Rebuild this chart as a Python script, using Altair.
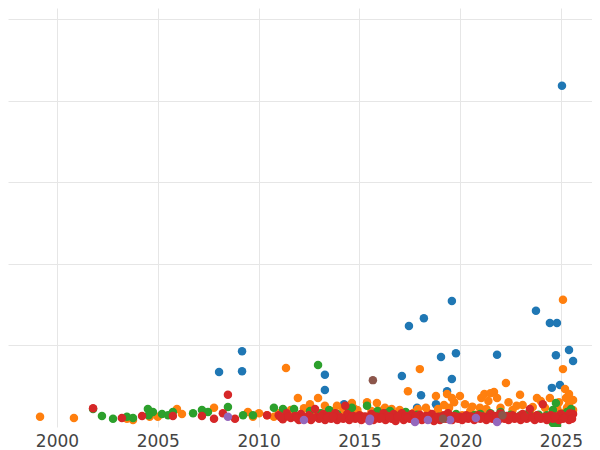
import altair as alt
import pandas as pd

# Series values (year, value)
blue = [(2008.04, 13.5), (2009.18, 18.6), (2009.18, 13.7), (2013.29, 12.8), (2013.29, 9.1),
        (2014.24, 5.6), (2017.11, 12.5), (2017.46, 24.8), (2017.86, 4.7), (2018.06, 7.8),
        (2018.2, 26.7), (2018.8, 5.6), (2019.05, 17.2), (2019.35, 8.8), (2019.59, 11.8),
        (2019.59, 30.9), (2019.79, 18.1), (2021.83, 17.7), (2023.76, 28.5), (2024.45, 25.5),
        (2024.8, 25.5), (2024.55, 9.6), (2024.95, 10.3), (2024.75, 17.6), (2025.4, 18.9),
        (2025.6, 16.2), (2025.05, 83.7)]

orange = [(1999.16, 2.5), (2000.84, 2.2), (2003.47, 2.0), (2003.77, 1.7), (2004.6, 2.5),
          (2005.0, 2.5), (2005.95, 4.4), (2006.2, 3.2), (2007.79, 4.7), (2009.47, 3.7),
          (2009.72, 2.5), (2010.02, 3.4), (2010.42, 2.9), (2010.76, 2.5), (2011.21, 2.0),
          (2011.36, 14.5), (2011.95, 7.1), (2011.0, 3.4), (2011.6, 4.2), (2012.25, 4.6),
          (2012.55, 5.6), (2012.95, 7.1), (2012.25, 2.0), (2013.29, 5.2), (2013.0, 3.4),
          (2013.54, 3.2), (2013.89, 5.2), (2014.2, 4.4), (2014.63, 5.9), (2014.7, 4.7),
          (2015.0, 3.0), (2015.38, 6.1), (2015.6, 3.9), (2015.87, 5.9), (2016.1, 3.0),
          (2016.27, 4.7), (2016.6, 4.4), (2016.87, 3.2), (2017.0, 4.2), (2017.41, 8.8),
          (2017.3, 2.5), (2017.7, 3.5), (2018.0, 14.2), (2018.3, 4.7), (2018.4, 3.5),
          (2018.8, 7.6), (2018.9, 4.4), (2019.0, 3.0), (2019.35, 8.1), (2019.45, 4.7),
          (2019.59, 7.1), (2019.99, 7.6), (2019.7, 6.1), (2020.24, 5.6), (2020.5, 3.9),
          (2020.78, 3.0), (2020.98, 4.7), (2021.05, 7.1), (2021.2, 8.1), (2021.4, 6.4),
          (2021.5, 8.3), (2021.68, 8.6), (2021.83, 7.1), (2022.0, 4.7), (2022.27, 10.8),
          (2022.4, 6.1), (2022.6, 4.2), (2022.97, 7.9), (2023.1, 5.4), (2023.46, 3.7),
          (2023.81, 7.1), (2024.0, 6.4), (2024.21, 4.7), (2024.45, 7.1), (2024.6, 3.5),
          (2025.1, 31.2), (2025.1, 14.2), (2025.2, 9.3), (2025.25, 7.1), (2025.4, 8.1),
          (2025.6, 6.6), (2025.4, 5.6), (2025.3, 4.7), (2025.6, 4.2), (2025.0, 3.5),
          (2024.9, 6.1), (2016.5, 2.5), (2018.6, 2.2), (2020.1, 2.9), (2021.9, 2.5),
          (2023.3, 2.9), (2024.3, 2.5), (2014.1, 2.5), (2012.8, 2.9), (2013.7, 3.9),
          (2014.9, 4.2), (2016.0, 4.0), (2017.9, 4.4), (2019.2, 5.4), (2020.6, 5.0),
          (2021.3, 4.4), (2022.8, 5.2), (2023.6, 4.9), (2024.8, 4.7)]

green = [(2001.79, 4.4), (2002.23, 2.7), (2002.78, 2.0), (2003.47, 2.5), (2003.77, 2.2),
         (2004.51, 4.4), (2004.76, 3.7), (2004.55, 2.9), (2005.21, 3.2), (2005.51, 2.9),
         (2005.75, 3.7), (2006.75, 3.4), (2007.19, 4.2), (2007.49, 3.7), (2008.48, 4.9),
         (2009.23, 2.9), (2009.72, 2.9), (2010.76, 4.7), (2011.21, 4.4), (2011.76, 4.4),
         (2012.0, 2.7), (2012.55, 3.9), (2012.95, 15.2), (2013.1, 3.4), (2013.5, 4.2),
         (2013.9, 3.2), (2014.5, 4.0), (2014.63, 4.7), (2015.38, 5.2), (2015.6, 2.5),
         (2015.9, 3.9), (2016.27, 3.4), (2016.52, 3.9), (2016.87, 2.7), (2017.3, 3.7),
         (2017.86, 3.0), (2018.4, 2.2), (2019.0, 2.5), (2019.8, 3.2), (2020.3, 2.5),
         (2020.7, 2.9), (2021.0, 3.2), (2021.5, 3.4), (2022.0, 3.7), (2022.5, 3.0),
         (2023.0, 2.9), (2023.4, 3.4), (2023.9, 3.0), (2024.3, 2.9), (2024.6, 4.2),
         (2024.75, 5.9), (2024.8, 0.4), (2025.0, 3.2), (2025.3, 3.7), (2025.5, 4.4),
         (2024.6, 1.0)]

red = [(2001.79, 4.6), (2003.22, 2.2), (2004.22, 2.7), (2005.75, 2.7), (2007.19, 2.7),
       (2007.79, 2.0), (2008.23, 3.4), (2008.48, 7.9), (2008.83, 2.0), (2010.42, 2.9),
       (2011.0, 2.9), (2011.2, 1.9), (2011.4, 3.4), (2011.6, 2.2), (2011.8, 2.7),
       (2012.0, 1.7), (2012.1, 3.2), (2012.3, 2.2), (2012.5, 2.9), (2012.6, 1.7),
       (2012.8, 4.4), (2012.9, 2.5), (2013.0, 2.0), (2013.2, 3.2), (2013.3, 1.7),
       (2013.5, 2.7), (2013.6, 2.0), (2013.8, 3.4), (2013.9, 1.7), (2014.0, 2.5),
       (2014.2, 2.0), (2014.3, 5.2), (2014.4, 3.2), (2014.5, 1.7), (2014.7, 2.7),
       (2014.8, 2.0), (2015.0, 2.9), (2015.1, 1.7), (2015.2, 2.5), (2015.4, 2.0),
       (2015.6, 3.2), (2015.7, 1.7), (2015.9, 2.5), (2016.0, 2.0), (2016.2, 3.4),
       (2016.3, 1.7), (2016.4, 2.7), (2016.6, 2.0), (2016.7, 3.2), (2016.8, 1.5),
       (2017.0, 2.5), (2017.1, 3.4), (2017.2, 1.7), (2017.3, 2.7), (2017.5, 2.0),
       (2017.6, 3.2), (2017.7, 1.7), (2017.9, 2.5), (2018.0, 3.0), (2018.1, 1.7),
       (2018.3, 2.7), (2018.5, 2.0), (2018.6, 3.2), (2018.7, 1.5), (2018.9, 2.5),
       (2019.0, 1.7), (2019.2, 2.9), (2019.3, 2.0), (2019.4, 3.4), (2019.6, 1.7),
       (2019.7, 2.7), (2019.9, 2.0), (2020.0, 2.5), (2020.1, 1.7), (2020.3, 2.9),
       (2020.4, 2.0), (2020.6, 2.5), (2020.7, 1.7), (2020.9, 2.9), (2021.0, 2.0),
       (2021.2, 2.5), (2021.3, 1.7), (2021.5, 3.2), (2021.6, 2.0), (2021.7, 2.7),
       (2021.9, 1.7), (2022.0, 3.4), (2022.2, 2.0), (2022.3, 2.7), (2022.4, 1.7),
       (2022.6, 2.9), (2022.7, 2.0), (2022.9, 2.5), (2023.0, 1.7), (2023.1, 3.2),
       (2023.3, 2.0), (2023.46, 4.4), (2023.5, 2.5), (2023.7, 1.7), (2023.8, 2.9),
       (2024.0, 2.0), (2024.1, 5.6), (2024.2, 2.5), (2024.3, 1.7), (2024.5, 2.9),
       (2024.6, 2.0), (2024.8, 2.5), (2024.9, 1.7), (2025.0, 3.2), (2025.1, 2.0),
       (2025.3, 2.7), (2025.4, 1.7), (2025.5, 2.5), (2025.6, 3.2),
       (2011.1, 2.4), (2011.5, 2.6), (2011.9, 2.2), (2012.2, 2.6), (2012.7, 2.3),
       (2013.1, 2.6), (2013.4, 2.3), (2013.7, 2.6), (2014.1, 2.3), (2014.6, 2.5),
       (2014.9, 2.3), (2015.3, 2.6), (2015.5, 2.2), (2015.8, 2.6), (2016.1, 2.3),
       (2016.5, 2.4), (2016.9, 2.6), (2017.4, 2.3), (2017.8, 2.7), (2018.2, 2.3),
       (2018.4, 2.6), (2018.8, 2.2), (2019.1, 2.5), (2019.5, 2.3), (2019.8, 2.5),
       (2020.2, 2.3), (2020.5, 2.6), (2020.8, 2.3), (2021.1, 2.6), (2021.4, 2.3),
       (2021.8, 2.5), (2022.1, 2.3), (2022.5, 2.6), (2022.8, 2.3), (2023.2, 2.6),
       (2023.6, 2.2), (2023.9, 2.5), (2024.4, 2.3), (2024.7, 2.6), (2025.2, 2.3),
       (2025.45, 3.4), (2025.55, 2.0)]

purple = [(2008.48, 2.5), (2012.25, 1.7), (2015.5, 1.5), (2015.53, 2.0), (2017.76, 1.2),
          (2018.4, 1.7), (2019.5, 1.7), (2020.78, 2.2), (2021.83, 1.2)]

brown = [(2015.67, 11.5), (2019.15, 2.0), (2022.1, 2.9)]

series_names = ["A", "B", "C", "D", "E", "F"]
series_colors = ["#1f77b4", "#ff7f0e", "#2ca02c", "#d62728", "#9467bd", "#8c564b"]
x_ticks = [2000, 2005, 2010, 2015, 2020, 2025]
y_grid = [20, 40, 60, 80, 100]

rows = []
for name, pts in zip(series_names, [blue, orange, green, red, purple, brown]):
    for x, y in pts:
        rows.append({"year": x, "value": y, "series": name})
df = pd.DataFrame(rows)

chart = alt.Chart(df).mark_circle(size=72, opacity=1, clip=True).encode(
    x=alt.X("year:Q", scale=alt.Scale(domain=[1997.57, 2026.54], nice=False, zero=False),
            axis=alt.Axis(values=x_ticks, format="d", title=None, grid=True, ticks=False,
                          domain=False, labelFontSize=17, labelColor="#444444",
                          labelFont="DejaVu Sans", labelPadding=6, gridColor="#e6e6e6",
                          labelFlush=False)),
    y=alt.Y("value:Q", scale=alt.Scale(domain=[0, 102.8], nice=False),
            axis=alt.Axis(values=y_grid, title=None, labels=False, ticks=False, domain=False,
                          grid=True, gridColor="#e6e6e6")),
    color=alt.Color("series:N", scale=alt.Scale(domain=series_names, range=series_colors),
                    legend=None),
).properties(width=584, height=419, padding=0).configure_view(strokeWidth=0)

chart.save("out.html", embed_options={"renderer": "svg", "actions": False})
